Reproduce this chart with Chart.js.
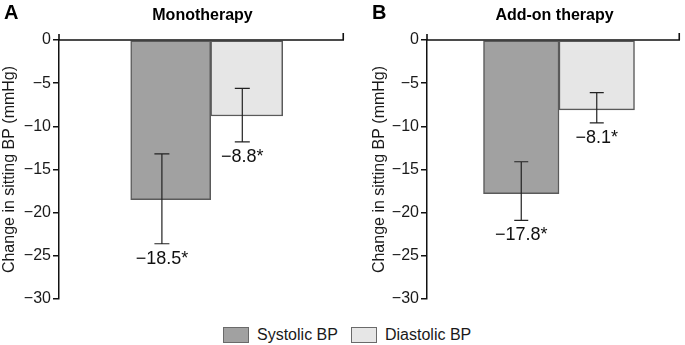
<!DOCTYPE html>
<html><head><meta charset="utf-8">
<script src="https://cdn.jsdelivr.net/npm/chart.js@4/dist/chart.umd.min.js"></script>
<style>
html,body{margin:0;padding:0;background:#fff;width:685px;height:345px;overflow:hidden;font-family:"Liberation Sans",Arial,sans-serif;color:#1a1a1a;}
#cA{position:absolute;left:0;top:0;}
#cB{position:absolute;left:345px;top:0;}
.lg{position:absolute;top:327px;height:16px;display:flex;align-items:center;font-size:16px;white-space:nowrap;}
.lg span.box{display:inline-block;width:24px;height:14px;border:1px solid #6a6a6a;margin-right:8px;}
</style></head>
<body>
<canvas id="cA" width="345" height="312"></canvas>
<canvas id="cB" width="340" height="312"></canvas>
<div class="lg" style="left:223px"><span class="box" style="background:#a1a1a1"></span>Systolic BP</div>
<div class="lg" style="left:351px"><span class="box" style="background:#e6e6e6"></span>Diastolic BP</div>
<script>
// ---- data ----
const panelLetters = ['A', 'B'];
const panelTitles = ['Monotherapy', 'Add-on therapy'];
const seriesNames = ['Systolic BP', 'Diastolic BP'];
const seriesColors = ['#a1a1a1', '#e6e6e6'];
const monoMeans = [-18.5, -8.8];
const monoErrTop = [-13.2, -5.6];
const monoErrBottom = [-23.6, -11.8];
const addonMeans = [-17.8, -8.1];
const addonErrTop = [-14.1, -6.1];
const addonErrBottom = [-20.9, -9.6];
const yMin = -30, yMax = 0, yStep = 5;
const yTitle = 'Change in sitting BP (mmHg)';

const FONT = '"Liberation Sans", Arial, sans-serif';
const minus = v => (v < 0 ? '\u2212' : '') + Math.abs(v);

const decor = {
  id: 'decor',
  afterLayout(chart, args, o) {
    const x = chart.scales.x;
    x.left += o.shift; x.right += o.shift; x.configure();
  },
  afterDraw(chart, args, o) {
    const ctx = chart.ctx, a = chart.chartArea, y = chart.scales.y;
    ctx.save();
    // zero line on top + axis end ticks
    const y0 = y.getPixelForValue(0);
    ctx.strokeStyle = '#111'; ctx.lineWidth = 1.6;
    ctx.beginPath();
    ctx.moveTo(a.left, y0); ctx.lineTo(a.right, y0);
    ctx.moveTo(a.left, a.top - 6); ctx.lineTo(a.left, a.top);
    ctx.moveTo(a.right - 0.75, a.top - 7); ctx.lineTo(a.right - 0.75, a.top);
    ctx.stroke();
    // error bars + labels
    ctx.strokeStyle = '#222'; ctx.lineWidth = 1.2;
    o.means.forEach((m, i) => {
      const el = chart.getDatasetMeta(i).data[0];
      const xc = el.x + o.errShift[i];
      const yt = y.getPixelForValue(o.errTop[i]);
      const yb = y.getPixelForValue(o.errBottom[i]);
      const c = o.cap / 2;
      ctx.beginPath();
      ctx.moveTo(xc, yt); ctx.lineTo(xc, yb);
      ctx.moveTo(xc - c, yt); ctx.lineTo(xc + c, yt);
      ctx.moveTo(xc - c, yb); ctx.lineTo(xc + c, yb);
      ctx.stroke();
      ctx.fillStyle = '#111';
      ctx.font = '18px ' + FONT;
      ctx.textAlign = 'center'; ctx.textBaseline = 'middle';
      ctx.fillText('\u2212' + Math.abs(m).toFixed(1) + '*', xc, yb + 15);
    });
    // panel letter & title
    ctx.fillStyle = '#000';
    ctx.font = 'bold 20px ' + FONT;
    ctx.textAlign = 'left'; ctx.textBaseline = 'middle';
    ctx.fillText(o.letter, o.letterX, 13);
    ctx.font = 'bold 16px ' + FONT;
    ctx.textAlign = 'center';
    ctx.fillText(o.title, (a.left + a.right) / 2 + 1, 16);
    ctx.restore();
  }
};

function makeChart(id, idx, means, errTop, errBottom, cfg) {
  return new Chart(document.getElementById(id), {
    type: 'bar',
    data: {
      labels: [''],
      datasets: seriesNames.map((n, i) => ({
        label: n, data: [means[i]],
        backgroundColor: seriesColors[i], borderColor: '#5a5a5a', borderWidth: 1.5,
        barThickness: cfg.barW[i], borderSkipped: false
      }))
    },
    options: {
      responsive: false, animation: false, devicePixelRatio: 1,
      layout: { padding: { top: 40, left: cfg.padLeft, right: cfg.padRight, bottom: 13 } },
      plugins: {
        legend: { display: false }, tooltip: { enabled: false }, title: { display: false },
        decor: { means, errTop, errBottom, letter: panelLetters[idx], title: panelTitles[idx],
                 letterX: cfg.letterX, cap: cfg.cap, shift: cfg.shift, errShift: cfg.errShift }
      },
      scales: {
        x: { display: false },
        y: {
          min: yMin, max: yMax,
          afterFit: s => { s.width = cfg.yW; },
          ticks: { stepSize: yStep, callback: v => minus(v), color: '#1a1a1a', padding: 2,
                   font: { size: 16, family: FONT } },
          grid: { drawOnChartArea: false, color: '#111',
                  lineWidth: 1.5, tickColor: '#111', tickLength: 6, tickWidth: 1.5 },
          border: { display: true, color: '#111', width: 1.5 },
          title: { display: true, text: yTitle, color: '#1a1a1a', padding: { top: 0, bottom: 0 },
                   font: { size: 16, family: FONT } }
        }
      }
    },
    plugins: [decor]
  });
}

makeChart('cA', 0, monoMeans, monoErrTop, monoErrBottom,
  { padLeft: 0, yW: 59, padRight: 1, barW: [80, 72], cap: 15, shift: 9.2, errShift: [-8.8, -4.4], letterX: 4 });
makeChart('cB', 1, addonMeans, addonErrTop, addonErrBottom,
  { padLeft: 25, yW: 57, padRight: 5, barW: [75.5, 75.5], cap: 14, shift: 5.5, errShift: [0, 0], letterX: 27 });
</script>
</body></html>
